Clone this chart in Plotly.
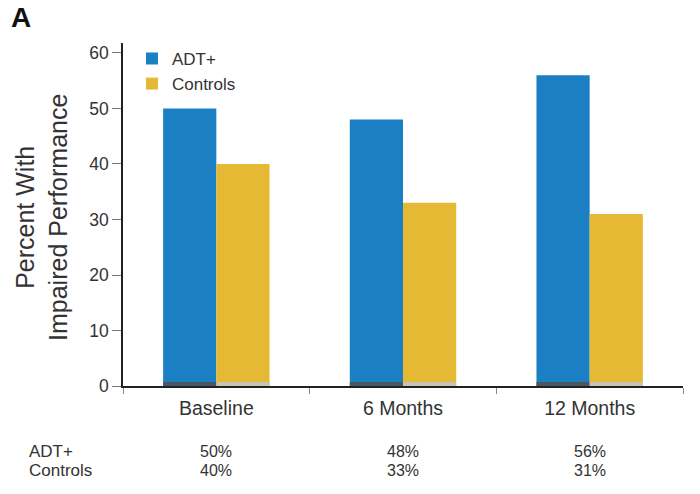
import plotly.graph_objects as go

categories = ["Baseline", "6 Months", "12 Months"]
adt_values = [50, 48, 56]
control_values = [40, 33, 31]
series_names = ["ADT+", "Controls"]
y_ticks = [0, 10, 20, 30, 40, 50, 60]

BLUE = "#1b7fc3"
YELLOW = "#e6b935"
FONT = "Liberation Sans, Arial, sans-serif"

fig = go.Figure()
fig.add_trace(go.Bar(x=categories, y=adt_values, name=series_names[0],
                     marker=dict(color=BLUE, line=dict(width=0)), offsetgroup="a"))
fig.add_trace(go.Bar(x=categories, y=control_values, name=series_names[1],
                     marker=dict(color=YELLOW, line=dict(width=0)), offsetgroup="c"))
# thin darker strip at the base of each bar
fig.add_trace(go.Bar(x=categories, y=[0.7] * len(categories), showlegend=False,
                     marker=dict(color="#4a5864", line=dict(width=0)), offsetgroup="a", hoverinfo="skip"))
fig.add_trace(go.Bar(x=categories, y=[0.7] * len(categories), showlegend=False,
                     marker=dict(color="#c9c3b6", line=dict(width=0)), offsetgroup="c", hoverinfo="skip"))

row1_y = -0.1924
row2_y = -0.2449
annotations = [
    dict(text="<b>A</b>", xref="paper", yref="paper", x=-0.204, y=1.125,
         xanchor="left", yanchor="top", showarrow=False,
         font=dict(size=28, color="#111", family=FONT)),
    dict(text="Percent With<br>Impaired Performance", xref="paper", yref="paper",
         x=-0.1446, y=0.49, xanchor="center", yanchor="middle",
         textangle=-90, showarrow=False,
         font=dict(size=25, color="#333", family=FONT)),
    dict(text=series_names[0], xref="paper", yref="paper", x=-0.171, y=row1_y,
         xanchor="left", yanchor="middle", showarrow=False,
         font=dict(size=17, color="#333", family=FONT)),
    dict(text=series_names[1], xref="paper", yref="paper", x=-0.171, y=row2_y,
         xanchor="left", yanchor="middle", showarrow=False,
         font=dict(size=17, color="#333", family=FONT)),
]
for cat, a, c in zip(categories, adt_values, control_values):
    annotations.append(dict(text=f"{a}%", x=cat, xref="x", yref="paper", y=row1_y,
                            xanchor="center", yanchor="middle", showarrow=False,
                            font=dict(size=16, color="#333", family=FONT)))
    annotations.append(dict(text=f"{c}%", x=cat, xref="x", yref="paper", y=row2_y,
                            xanchor="center", yanchor="middle", showarrow=False,
                            font=dict(size=16, color="#333", family=FONT)))

fig.update_layout(
    width=700, height=494,
    margin=dict(l=123, r=17, t=43, b=108),
    paper_bgcolor="white", plot_bgcolor="white",
    barmode="group", bargap=0.43, bargroupgap=0,
    font=dict(family=FONT, color="#333"),
    legend=dict(x=0.016, y=1.006, xanchor="left", yanchor="top",
                font=dict(size=17, color="#333"), bgcolor="rgba(0,0,0,0)",
                itemwidth=30, tracegroupgap=0),
    annotations=annotations,
    showlegend=True,
)
fig.update_xaxes(
    type="category", range=[-0.5, 2.5], showgrid=False,
    showline=True, linecolor="#222", linewidth=1.5,
    ticks="outside", tickson="boundaries", ticklen=6, tickcolor="#888",
    tickfont=dict(size=19.5, color="#333"), ticklabelstandoff=4,
)
fig.update_yaxes(
    range=[0, 61.8], tickvals=y_ticks, showgrid=False, zeroline=False,
    showline=True, linecolor="#222", linewidth=1.5,
    ticks="outside", ticklen=9, tickcolor="#777",
    tickfont=dict(size=17.5, color="#333"),
)

fig.write_html("out.html")
